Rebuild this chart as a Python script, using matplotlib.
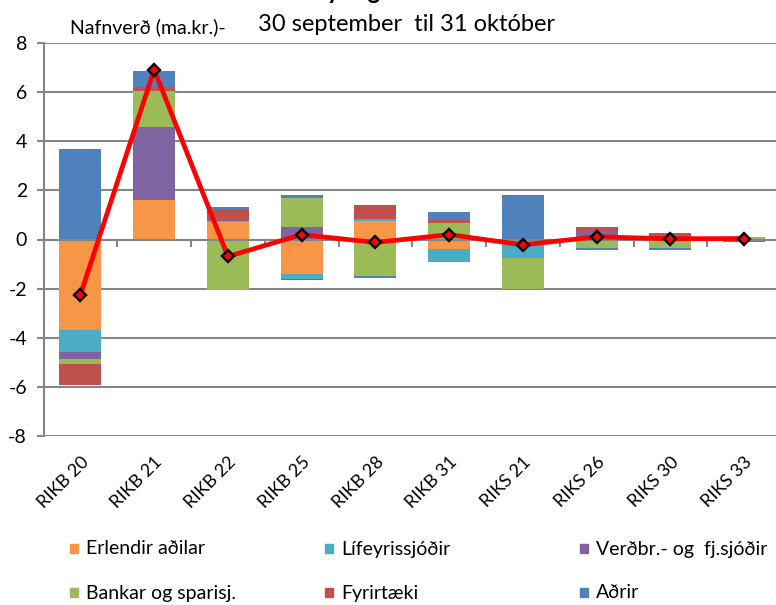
import numpy as np
import matplotlib.pyplot as plt
from matplotlib.patches import Rectangle

plt.rcParams['font.family'] = ['Lato', 'DejaVu Sans']
plt.rcParams['axes.unicode_minus'] = False

# Nafnverð í ma.kr. eftir flokki fjárfesta
bonds = ['RIKB 20', 'RIKB 21', 'RIKB 22', 'RIKB 25', 'RIKB 28',
         'RIKB 31', 'RIKS 21', 'RIKS 26', 'RIKS 30', 'RIKS 33']
erlendir = [-3.69, 1.59, 0.70, -1.42, 0.77, -0.37, 0.0, 0.0, 0.0, 0.0]
lifeyris = [-0.88, 0.0, 0.07, -0.17, 0.07, -0.55, -0.77, 0.0, 0.0, 0.0]
verdbr = [-0.31, 2.98, 0.04, 0.52, 0.0, 0.0, 0.0, 0.30, 0.0, 0.0]
bankar = [-0.19, 1.49, -2.05, 1.15, -1.50, 0.68, -1.26, -0.34, -0.34, 0.12]
fyrirtaeki = [-0.85, 0.13, 0.44, -0.06, 0.58, 0.13, 0.0, 0.22, 0.28, 0.0]
adrir = [3.69, 0.68, 0.08, 0.15, -0.07, 0.29, 1.82, -0.08, -0.08, -0.10]
netto = [-2.24, 6.91, -0.69, 0.20, -0.12, 0.20, -0.22, 0.11, 0.03, 0.04]

series = [
    ('Erlendir aðilar', erlendir, '#F79646'),
    ('Lífeyrissjóðir', lifeyris, '#4BACC6'),
    ('Verðbr.- og  fj.sjóðir', verdbr, '#8064A2'),
    ('Bankar og sparisj.', bankar, '#9BBB59'),
    ('Fyrirtæki', fyrirtaeki, '#C0504D'),
    ('Aðrir', adrir, '#4F81BD'),
]

W, H = 776, 605
fig = plt.figure(figsize=(W / 100, H / 100), dpi=100)
ax = fig.add_axes([43.6 / W, 1 - 436 / H, (781 - 43.6) / W, (436 - 43) / H])

x = np.arange(len(bonds))
pos_base = np.zeros(len(bonds))
neg_base = np.zeros(len(bonds))
for name, vals, color in series:
    v = np.array(vals)
    bottom = np.where(v >= 0, pos_base, neg_base)
    ax.bar(x, v, 0.57, bottom=bottom, color=color, edgecolor='none', zorder=2)
    pos_base += np.where(v > 0, v, 0)
    neg_base += np.where(v < 0, v, 0)

ax.plot(x, netto, color='#FF0000', lw=3.4, marker='D', ms=6.5,
        mfc='#FF0000', mec='black', mew=1.7, zorder=4)

# axes styling
grey = '#868686'
ax.set_xlim(-0.5, len(bonds) - 0.5)
ax.set_ylim(-8, 8)
ax.set_yticks(np.arange(-8, 9, 2))
ax.yaxis.grid(True, color=grey, lw=1.5, zorder=0)
ax.set_axisbelow(True)
for s in ['top', 'right']:
    ax.spines[s].set_visible(False)
ax.spines['left'].set_color(grey)
ax.spines['left'].set_linewidth(1.5)
ax.spines['bottom'].set_position(('data', 0))
ax.spines['bottom'].set_color(grey)
ax.spines['bottom'].set_linewidth(1.5)
ax.tick_params(axis='y', length=5, width=1.5, color=grey, labelsize=14, pad=7)

# category boundary ticks on the zero line
ax.set_xticks(x)
ax.set_xticks(np.arange(len(bonds) + 1) - 0.5, minor=True)
ax.tick_params(axis='x', which='major', length=0, labelbottom=False)
ax.tick_params(axis='x', which='minor', length=5, width=1.5, color=grey)

sec = ax.secondary_xaxis('bottom')
sec.set_xticks(x)
sec.set_xticklabels(bonds, rotation=45, ha='right', rotation_mode='anchor',
                    fontsize=13)
sec.tick_params(length=0, pad=13)
sec.spines['bottom'].set_visible(False)

# titles
fig.text(335 / W, 1 + 1 / H, 'Breyting', fontsize=17, fontweight='bold',
         ha='center', va='baseline')
fig.text(70 / W, 1 - 33 / H, 'Nafnverð (ma.kr.)-', fontsize=14,
         va='baseline')
fig.text(258 / W, 1 - 31 / H, '30 september  til 31 október', fontsize=17,
         va='baseline')

# legend, three columns by two rows
cols = [70, 325, 580]
rows = [549, 593]
for i, (name, vals, color) in enumerate(series):
    cx = cols[i % 3]
    cy = rows[i // 3]
    fig.patches.append(Rectangle((cx / W, 1 - (cy + 4) / H), 8 / W, 9 / H,
                                 transform=fig.transFigure, color=color))
    fig.text((cx + 16) / W, 1 - cy / H, name, fontsize=14, va='center')

fig.savefig('out.png', dpi=100)
